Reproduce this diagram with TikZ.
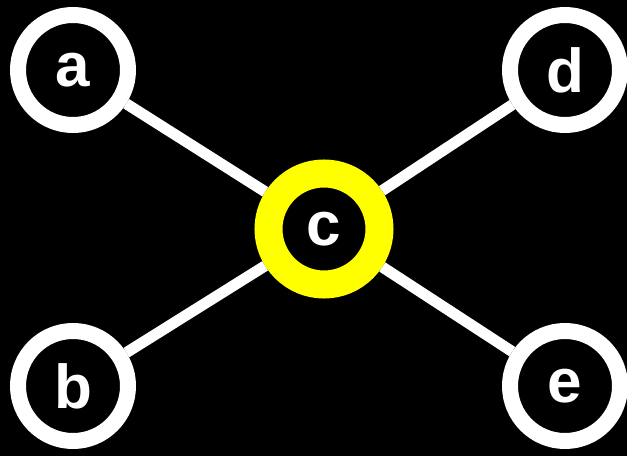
\documentclass[tikz,border=0pt]{standalone}
\usepackage{fontspec}
\setmainfont{Liberation Sans}
\usetikzlibrary{positioning}
\definecolor{hubyellow}{RGB}{255, 255, 0}

\begin{document}
\begin{tikzpicture}[x=1pt, y=1pt,
        vertex/.style={circle, draw=white, fill=black, line width=16pt, minimum size=110pt, inner sep=0pt,
            text=white, font=\fontsize{62}{62}\selectfont\bfseries},
        hub/.style={vertex, draw=hubyellow, line width=28pt, minimum size=111pt},
        link/.style={white, line width=11pt}]

        % Fondo
        \useasboundingbox (0,0) rectangle (627,456);
        \fill[black] (0,0) rectangle (627,456);

        % --- NODOS ---
        \node[hub] (c) at (324,227) {c};
        \node[vertex] (a) at (73,386) {a};
        \node[vertex] (d) at (565,386) {d};
        \node[vertex] (b) at (73,70) {b};
        \node[vertex] (e) at (565,70) {e};

        % --- ARISTAS ---
        \draw[link] (a) -- (c);
        \draw[link] (d) -- (c);
        \draw[link] (b) -- (c);
        \draw[link] (e) -- (c);

    \end{tikzpicture}
\end{document}
